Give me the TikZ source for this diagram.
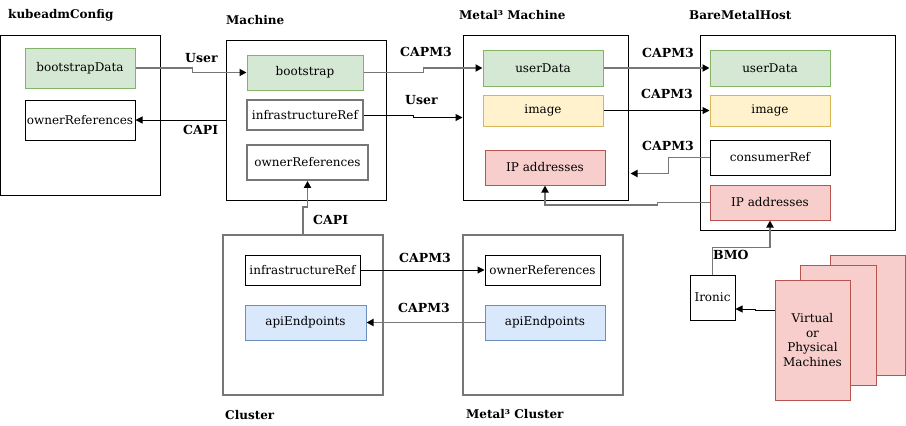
\documentclass[tikz,border=0pt]{standalone}
\usepackage{fontspec}
\setmainfont{DejaVu Serif}
\usetikzlibrary{arrows.meta}
\definecolor{gfill}{HTML}{D5E8D4}\definecolor{gline}{HTML}{82B366}
\definecolor{yfill}{HTML}{FFF2CC}\definecolor{yline}{HTML}{D6B656}
\definecolor{rfill}{HTML}{F8CECC}\definecolor{rline}{HTML}{B85450}
\definecolor{bfill}{HTML}{DAE8FC}\definecolor{bline}{HTML}{6C8EBF}
\definecolor{gy}{HTML}{777777}
\tikzset{
  every node/.style={font=\fontsize{12}{14}\selectfont},
  outer/.style={draw=black, line width=1pt, rectangle, inner sep=0pt},
  outerg/.style={draw=gy, line width=1.8pt, rectangle, inner sep=0pt},
  plain/.style={draw=black, line width=1pt, fill=white, rectangle, inner sep=0pt},
  plaing/.style={draw=gy, line width=1.8pt, fill=white, rectangle, inner sep=0pt},
  green/.style={draw=gline, line width=1pt, fill=gfill, rectangle, inner sep=0pt},
  yell/.style={draw=yline, line width=1pt, fill=yfill, rectangle, inner sep=0pt},
  redb/.style={draw=rline, line width=1pt, fill=rfill, rectangle, inner sep=0pt},
  blueb/.style={draw=bline, line width=1pt, fill=bfill, rectangle, inner sep=0pt},
  title/.style={anchor=west, inner sep=0pt, font=\fontsize{12}{14}\selectfont\bfseries},
  lbl/.style={anchor=west, inner sep=0pt, font=\fontsize{12.5}{14}\selectfont\bfseries},
  arr/.style={draw=black, line width=1pt, -{Triangle[length=7pt,width=7pt,black]}},
  arrg/.style={draw=gy, line width=1.8pt, -{Triangle[length=7pt,width=7pt,black]}},
}
\begin{document}
\begin{tikzpicture}[x=1pt,y=-1pt]
\useasboundingbox (0,0) rectangle (906,426);
% outer boxes
\node[outer, minimum width=160pt, minimum height=160pt] (kc) at (80,115) {};
\node[outer, minimum width=160pt, minimum height=160pt] (ma) at (306,120) {};
\node[outer, minimum width=165pt, minimum height=165pt] (m3m) at (545.5,117.5) {};
\node[outer, minimum width=195pt, minimum height=195pt] (bmh) at (797.5,132.5) {};
\node[outerg, minimum width=160pt, minimum height=160pt] (cl) at (303,315) {};
\node[outerg, minimum width=160pt, minimum height=160pt] (m3c) at (543,315) {};
% titles
\node[title] (tkc) at (8,15) {kubeadmConfig};
\node[title] (tma) at (226,20) {Machine};
\node[title] (tm3m) at (459,15) {Metal³ Machine};
\node[title] (tbmh) at (689,15) {BareMetalHost};
\node[title] (tcl) at (225,415) {Cluster};
\node[title] (tm3c) at (466,414) {Metal³ Cluster};
% kubeadmConfig
\node[green, minimum width=110pt, minimum height=40pt] (kbd) at (80,68) {bootstrapData};
\node[plain, minimum width=110pt, minimum height=40pt] (kor) at (80,120) {ownerReferences};
% Machine
\node[green, minimum width=116pt, minimum height=35pt] (mbs) at (305,72.5) {bootstrap};
\node[plaing, minimum width=116pt, minimum height=30pt] (mir) at (305,115) {infrastructureRef};
\node[plaing, minimum width=121pt, minimum height=35pt] (mor) at (307.5,162.5) {ownerReferences};
% Metal3 Machine
\node[green, minimum width=120pt, minimum height=36pt] (m3ud) at (543,68) {userData};
\node[yell, minimum width=120pt, minimum height=31pt] (m3im) at (543,110.5) {image};
\node[redb, minimum width=120pt, minimum height=35pt] (m3ip) at (545,167.5) {IP addresses};
% BareMetalHost
\node[green, minimum width=120pt, minimum height=36pt] (bud) at (770,68) {userData};
\node[yell, minimum width=120pt, minimum height=31pt] (bim) at (770,110.5) {image};
\node[plain, minimum width=120pt, minimum height=35pt] (bcr) at (770,157.5) {consumerRef};
\node[redb, minimum width=120pt, minimum height=35pt] (bip) at (770,202.5) {IP addresses};
% Cluster
\node[plain, minimum width=115pt, minimum height=30pt] (cir) at (302.5,270) {infrastructureRef};
\node[blueb, minimum width=121pt, minimum height=35pt] (cap) at (305.5,322.5) {apiEndpoints};
% Metal3 Cluster
\node[plain, minimum width=115pt, minimum height=30pt] (m3or) at (542.5,270) {ownerReferences};
\node[blueb, minimum width=120pt, minimum height=35pt] (m3ap) at (545,322.5) {apiEndpoints};
% Ironic and machines
\node[plain, minimum width=45pt, minimum height=45pt] (iro) at (712.5,297.5) {Ironic};
\node[redb, minimum width=75pt, minimum height=120pt] (vm3) at (867.5,315) {};
\node[redb, minimum width=76pt, minimum height=120pt] (vm2) at (838,325) {};
\node[redb, minimum width=75pt, minimum height=120pt, align=center,
      font=\fontsize{12}{14.5}\selectfont] (vm1) at (812.5,340) {Virtual\\or\\Physical\\Machines};
% connectors
\draw[arrg] (kbd.east) -- ++(57,0) |- (mbs.west);
\draw[arr] (ma.west) -- (kor.east);
\draw[arrg] (mbs.east) -- ++(60,0) |- (m3ud.west);
\draw[arr] (mir.east) -- ++(50,0) |- (m3m.west);
\draw[arrg] (cl.north) -- ++(0,-27) -| (mor.south);
\draw[arrg] (m3ud.east) -- (bud.west);
\draw[arr] (m3im.east) -- (bim.west);
\draw[arrg] (bcr.west) -- ++(-41,0) |- ([xshift=2pt,yshift=27pt]m3m.south east);
\draw[arrg] (bip.west) -- ++(-52,0) -- ++(0,2.5) -| (m3ip.south);
\draw[arrg] (iro.north) -- ++(0,-27) -| (bip.south);
\draw[arr] ([yshift=30pt]vm1.west) -- ++(-19,0) |- ([yshift=-11.5pt]iro.east);
\draw[arr] (cir.east) -- (m3or.west);
\draw[arrg] (m3ap.west) -- (cap.east);
% labels
\node[lbl] (l1) at (185,58) {User};
\node[lbl] (l2) at (183,130) {CAPI};
\node[lbl] (l3) at (400,52) {CAPM3};
\node[lbl] (l4) at (405,100) {User};
\node[lbl] (l5) at (313,220) {CAPI};
\node[lbl] (l6) at (642,53) {CAPM3};
\node[lbl] (l7) at (641,94) {CAPM3};
\node[lbl] (l8) at (642,146) {CAPM3};
\node[lbl] (l9) at (399,258) {CAPM3};
\node[lbl] (l10) at (398,308) {CAPM3};
\node[lbl] (l11) at (713,255) {BMO};
\end{tikzpicture}
\end{document}
